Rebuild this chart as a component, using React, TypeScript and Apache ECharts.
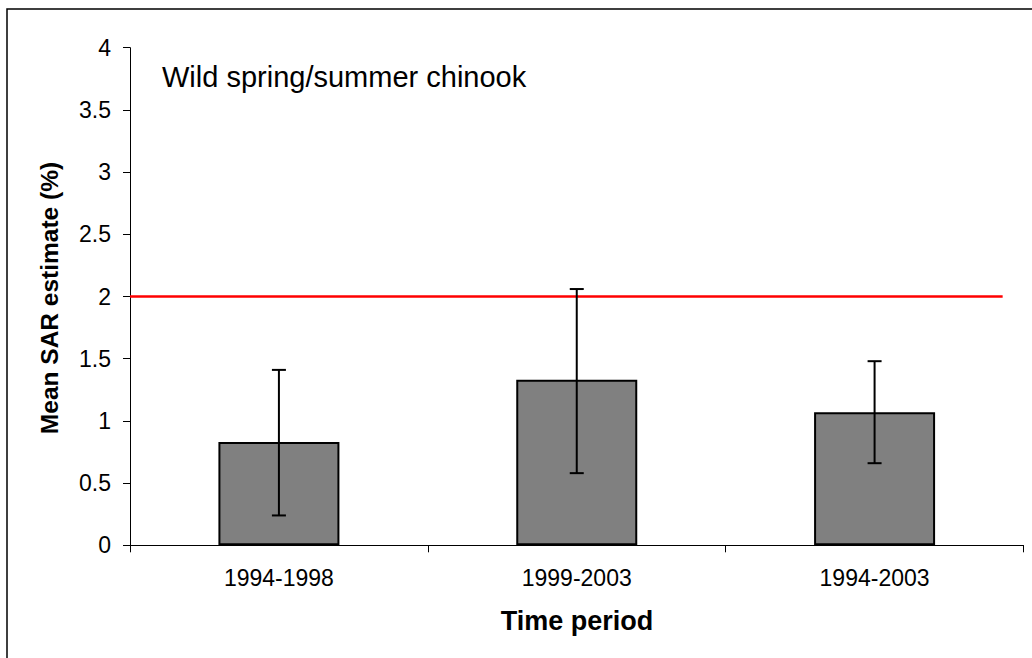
import React, { useEffect, useRef } from "react";
import * as echarts from "echarts";

const categories = ["1994-1998", "1999-2003", "1994-2003"];
const means = [0.83, 1.33, 1.07];
const errLow = [0.24, 0.58, 0.66];
const errHigh = [1.41, 2.06, 1.48];
const targetLine = [[0, 2], [2.93, 2]];
const yTicks = { min: 0, max: 4, interval: 0.5 };

const FONT = "'Liberation Sans', Arial, sans-serif";

export default function App() {
  const ref = useRef<HTMLDivElement>(null);
  useEffect(() => {
    const chart = echarts.init(ref.current!, null, { renderer: "svg" });
    const errData = categories.map((_, i) => [i, errLow[i], errHigh[i]]);
    chart.setOption({
      animation: false,
      backgroundColor: "#ffffff",
      grid: { left: 130, top: 47.7, right: 8.5, bottom: 112.7, containLabel: false },
      xAxis: [
        {
          type: "category",
          data: categories,
          boundaryGap: true,
          axisLine: { show: true, lineStyle: { color: "#000", width: 1 } },
          axisTick: { show: true, length: 7, lineStyle: { color: "#000" } },
          axisLabel: { color: "#000", fontSize: 23, fontFamily: FONT, margin: 21 },
          splitLine: { show: false },
        },
        {
          type: "value",
          min: 0,
          max: 3,
          show: false,
          splitLine: { show: false },
        },
      ],
      yAxis: {
        type: "value",
        min: yTicks.min,
        max: yTicks.max,
        interval: yTicks.interval,
        axisLine: { show: true, lineStyle: { color: "#000", width: 1 } },
        axisTick: { show: true, inside: false, length: 7, lineStyle: { color: "#000" } },
        axisLabel: { color: "#000", fontSize: 23, fontFamily: FONT, margin: 19 },
        splitLine: { show: false },
      },
      series: [
        {
          type: "bar",
          data: means,
          barWidth: 121,
          itemStyle: { color: "#808080", borderColor: "#000", borderWidth: 2 },
          z: 2,
        },
        {
          type: "custom",
          xAxisIndex: 0,
          yAxisIndex: 0,
          data: errData,
          encode: { x: 0, y: [1, 2] },
          z: 4,
          renderItem: (params: any, api: any) => {
            const x = api.value(0);
            const lo = api.coord([x, api.value(1)]);
            const hi = api.coord([x, api.value(2)]);
            const half = 7;
            const st = { stroke: "#000", lineWidth: 2 };
            return {
              type: "group",
              children: [
                { type: "line", shape: { x1: lo[0], y1: lo[1], x2: hi[0], y2: hi[1] }, style: st },
                { type: "line", shape: { x1: hi[0] - half, y1: hi[1], x2: hi[0] + half, y2: hi[1] }, style: st },
                { type: "line", shape: { x1: lo[0] - half, y1: lo[1], x2: lo[0] + half, y2: lo[1] }, style: st },
              ],
            };
          },
        },
        {
          type: "line",
          xAxisIndex: 1,
          yAxisIndex: 0,
          data: targetLine,
          symbol: "none",
          lineStyle: { color: "#ff0000", width: 2.6 },
          z: 3,
        },
      ],
      graphic: [
        {
          type: "rect",
          shape: { x: 7, y: 9, width: 1100, height: 800 },
          style: { fill: "none", stroke: "#000", lineWidth: 1.5 },
          silent: true,
        },
        {
          type: "text",
          x: 162,
          y: 77,
          style: {
            text: "Wild spring/summer chinook",
            fontSize: 29,
            fontFamily: FONT,
            fill: "#000",
            verticalAlign: "middle",
            align: "left",
          },
        },
        {
          type: "text",
          x: 49,
          y: 298,
          rotation: Math.PI / 2,
          style: {
            text: "Mean SAR estimate (%)",
            fontSize: 24.5,
            fontWeight: "bold",
            fontFamily: FONT,
            fill: "#000",
            align: "center",
            verticalAlign: "middle",
          },
        },
        {
          type: "text",
          x: 577,
          y: 621,
          style: {
            text: "Time period",
            fontSize: 27,
            fontWeight: "bold",
            fontFamily: FONT,
            fill: "#000",
            align: "center",
            verticalAlign: "middle",
          },
        },
      ],
    });
    return () => chart.dispose();
  }, []);
  return (
    <div
      ref={ref}
      style={{ position: "fixed", left: 0, top: 0, width: 1032, height: 658, background: "#fff" }}
    />
  );
}
